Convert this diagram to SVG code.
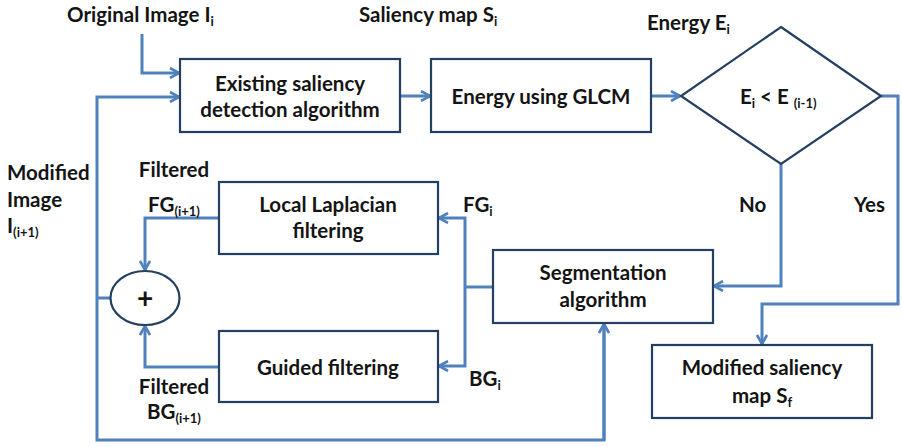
<svg xmlns="http://www.w3.org/2000/svg" width="902" height="447" viewBox="0 0 902 447">
<defs>
<marker id="arr" viewBox="0 0 12 12" refX="11" refY="6" markerWidth="12" markerHeight="12" markerUnits="userSpaceOnUse" orient="auto">
<path d="M2,1 L11,6 L2,11" fill="none" stroke="#4F81BD" stroke-width="2.6"/>
</marker>
</defs>
<style>
.box{fill:#fff;stroke:#243F60;stroke-width:2.2}
.c{fill:none;stroke:#4F81BD;stroke-width:3}
.ca{fill:none;stroke:#4F81BD;stroke-width:3;marker-end:url(#arr)}
text{font-family:Lato,"Open Sans","Liberation Sans",sans-serif;font-weight:bold;font-size:20.5px;fill:#141414}
.m{text-anchor:middle}
.s{font-size:13px}
</style>
<rect width="902" height="447" fill="#fff"/>
<g id="connectors">
<path class="ca" d="M142,34 V73 H179"/>
<path class="ca" d="M97,298 V97 H179"/>
<path class="c" d="M97,298 V440 H604 V324"/>
<path class="c" d="M97,298 H111"/>
<path class="ca" d="M604,440 V324"/>
<path class="ca" d="M400,96 H430"/>
<path class="ca" d="M651,96 H680"/>
<path class="ca" d="M781,164 V286 H714"/>
<path class="ca" d="M881,96 H898 V304 H762 V344"/>
<path class="c" d="M493,287 H465"/>
<path class="ca" d="M465,287 V218 H439"/>
<path class="ca" d="M465,287 V366 H439"/>
<path class="ca" d="M219,218 H145 V270"/>
<path class="ca" d="M219,367 H145 V326"/>
</g>
<g id="n_existing">
<rect class="box" x="180" y="59" width="220" height="73"/>
<text class="m" x="290" y="91">Existing saliency</text>
<text class="m" x="290" y="117">detection algorithm</text>
</g>
<g id="n_glcm">
<rect class="box" x="431" y="59" width="220" height="73"/>
<text class="m" x="541" y="104">Energy using GLCM</text>
</g>
<g id="n_decision">
<polygon class="box" points="781,27 881,96 781,164 681,96"/>
<text x="740" y="104">E<tspan class="s" dy="4">i</tspan><tspan dy="-4"> &lt; E </tspan><tspan class="s" dy="4">(i-1)</tspan></text>
</g>
<g id="n_segmentation">
<rect class="box" x="493" y="250" width="220" height="73"/>
<text class="m" x="603" y="280">Segmentation</text>
<text class="m" x="603" y="307">algorithm</text>
</g>
<g id="n_modified">
<rect class="box" x="652" y="345" width="220" height="73"/>
<text class="m" x="762" y="375">Modified saliency</text>
<text class="m" x="762" y="403">map S<tspan class="s" dy="4">f</tspan></text>
</g>
<g id="n_laplacian">
<rect class="box" x="219" y="182" width="219" height="72"/>
<text class="m" x="328" y="212">Local Laplacian</text>
<text class="m" x="328" y="238">filtering</text>
</g>
<g id="n_guided">
<rect class="box" x="219" y="331" width="219" height="71"/>
<text class="m" x="328" y="375">Guided filtering</text>
</g>
<g id="n_sum">
<ellipse class="box" cx="145" cy="298" rx="34.5" ry="27"/>
<text class="m" x="145" y="308" style="font-size:28px">+</text>
</g>
<g id="labels">
<text x="67" y="22">Original Image I<tspan class="s" dy="4">i</tspan></text>
<text x="359" y="22">Saliency map S<tspan class="s" dy="4">i</tspan></text>
<text x="647" y="30">Energy E<tspan class="s" dy="4">i</tspan></text>
<text x="7" y="180">Modified</text>
<text x="7" y="207">Image</text>
<text x="7" y="233">I<tspan class="s" dy="4">(i+1)</tspan></text>
<text class="m" x="174" y="177">Filtered</text>
<text class="m" x="174" y="212">FG<tspan class="s" dy="4">(i+1)</tspan></text>
<text class="m" x="174" y="394">Filtered</text>
<text class="m" x="174" y="419">BG<tspan class="s" dy="4">(i+1)</tspan></text>
<text x="463" y="212">FG<tspan class="s" dy="4">i</tspan></text>
<text x="469" y="386">BG<tspan class="s" dy="4">i</tspan></text>
<text x="739" y="212">No</text>
<text x="854" y="212">Yes</text>
</g>
</svg>
